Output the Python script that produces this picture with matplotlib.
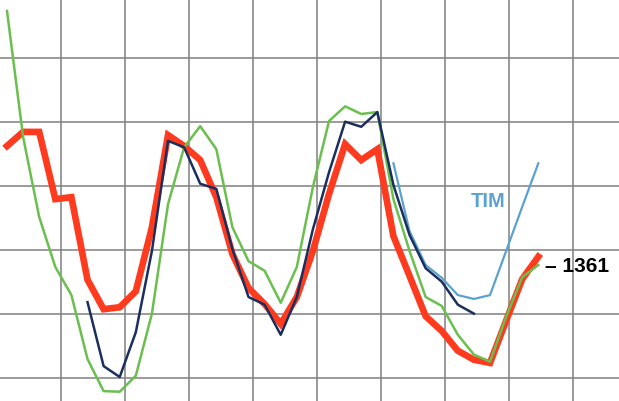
import numpy as np
import matplotlib.pyplot as plt
from matplotlib import font_manager

# periods (index) and series values
red_x = list(range(0, 34))
red_y = [363, 385, 385, 280, 283, 154, 108, 111, 136, 236,
         380, 363, 341, 283, 194, 141, 116, 85, 127, 199,
         288, 366, 341, 358, 222, 160, 97, 74, 43, 29,
         24, 90, 155, 190]

green_x = list(range(0, 34))
green_y = [574, 377, 252, 174, 130, 30, -20, -21, 4, 101,
           272, 361, 394, 358, 236, 183, 168, 118, 174, 299,
           402, 425, 413, 416, 280, 199, 127, 113, 68, 37,
           26, 96, 158, 177]

navy_x = list(range(5, 30))
navy_y = [119, 19, 2, 72, 199, 371, 361, 304, 296, 202,
          127, 115, 68, 127, 233, 322, 401, 393, 416, 302,
          224, 172, 151, 115, 101]

tim_x = list(range(24, 34))
tim_y = [336, 230, 177, 157, 130, 124, 130, 199, 268, 336]

last_label = "\u2013 1361"

# narrow font for the TIM label if one is installed
names = {f.name for f in font_manager.fontManager.ttflist}
if 'Liberation Sans Narrow' in names:
    tim_font = dict(family='Liberation Sans Narrow', fontsize=17)
else:
    tim_font = dict(family='Liberation Sans', fontsize=14.5)

fig = plt.figure(figsize=(6.19, 4.02), dpi=100)
ax = fig.add_axes([0, 0, 1, 1])

ax.plot(green_x, green_y, color='#6abf4e', lw=1.8, zorder=3)
ax.plot(navy_x, navy_y, color='#1b2f5e', lw=1.8, zorder=4)
ax.plot(tim_x, tim_y, color='#5aa2cf', lw=1.6, zorder=3)
ax.plot(red_x, red_y, color='#ff3b1f', lw=4.8, zorder=2,
        solid_joinstyle='miter')

ax.text(29.9, 278, "TIM", color='#5aa2cf', fontweight='bold',
        ha='center', va='center', **tim_font)
ax.text(33.4, 177, last_label, color='black', fontsize=15,
        family='Liberation Sans', fontweight='bold',
        ha='left', va='center')

ax.set_xlim(-0.435, 38.01)
ax.set_ylim(-35.5, 592.7)
ax.set_xticks(3.373 + 3.975 * np.arange(9))
ax.set_yticks(np.arange(0, 600, 100))
ax.grid(True, color='#808080', lw=1.1)
ax.set_axisbelow(True)
ax.tick_params(length=0, labelbottom=False, labelleft=False)
for s in ax.spines.values():
    s.set_visible(False)

fig.savefig('out.png', dpi=100)
